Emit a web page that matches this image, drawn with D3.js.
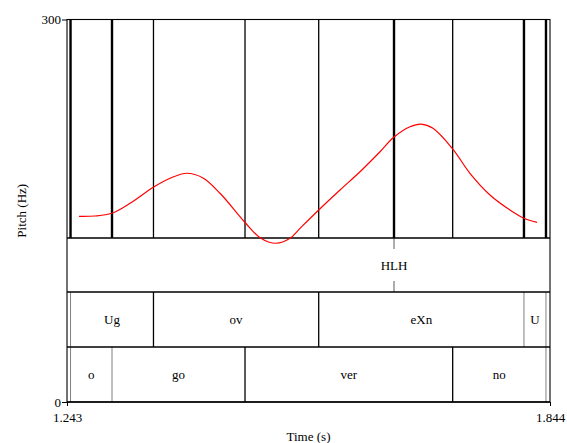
<!DOCTYPE html>
<html>
<head>
<meta charset="utf-8">
<script src="https://cdn.jsdelivr.net/npm/d3@7"></script>
<style>
  html, body { margin: 0; padding: 0; background: #fff; }
  svg { display: block; }
</style>
</head>
<body>
<svg id="chart" width="567" height="443"></svg>
<script>
// ---- data ----
const timeDomain = [1.243, 1.844];
const pitchDomain = [0, 300];
const xTickValues = [1.243, 1.844];
const yTickValues = [0, 300];
const xLabel = "Time (s)";
const yLabel = "Pitch (Hz)";

// pitch contour (time s, Hz)
const pitchTimes = [1.2579, 1.2778, 1.2986, 1.3214, 1.3504, 1.3712, 1.3923, 1.4122, 1.4334, 1.4654,
  1.4832, 1.5031, 1.5205, 1.5329, 1.5562, 1.5827, 1.6076, 1.6325, 1.6499, 1.6698, 1.6835, 1.6984,
  1.7233, 1.7444, 1.7693, 1.7942, 1.8116, 1.8278];
const pitchValues = [145.6, 145.9, 148.0, 155.8, 168.4, 175.5, 179.4, 175.7, 163.7, 140.2,
  128.9, 124.5, 128.4, 136.2, 150.6, 166.3, 180.6, 196.3, 207.8, 215.9, 218.0, 214.7,
  198.2, 179.4, 162.4, 150.6, 144.1, 140.9];

// tier 1: point tier
const tonePointTimes = [1.6499];
const tonePointLabels = ["HLH"];

// tier 2: syllables
const syllableBoundaries = [1.2474, 1.3506, 1.5562, 1.8116, 1.8390];
const syllableLabels = ["Ug", "ov", "eXn", "U"];

// tier 3: words
const wordBoundaries = [1.2474, 1.2990, 1.4645, 1.7229, 1.8390];
const wordLabels = ["o", "go", "ver", "no"];

// ---- layout ----
const FONT = "'Liberation Serif', 'Times New Roman', Times, 'DejaVu Serif', serif";
const mLeft = 67, mRight = 550, mTop = 19.5, mBottom = 402;
const tierTops = [238, 292, 347, 402];

const x = d3.scaleLinear().domain(timeDomain).range([mLeft, mRight]);
const y = d3.scaleLinear().domain(pitchDomain).range([mBottom, mTop]);

const svg = d3.select("#chart");

// boundaries drawn bold in the pitch area (edge boundaries and the tone point)
const boldSet = new Set([wordBoundaries[0], wordBoundaries[1], tonePointTimes[0],
  syllableBoundaries[3], syllableBoundaries[4]]);

const allBoundaries = Array.from(new Set([...syllableBoundaries, ...wordBoundaries, ...tonePointTimes]));

// pitch area vertical lines
svg.append("g").selectAll("line").data(allBoundaries).join("line")
  .attr("x1", d => x(d)).attr("x2", d => x(d))
  .attr("y1", mTop).attr("y2", tierTops[0])
  .attr("stroke", "#000")
  .attr("stroke-width", d => boldSet.has(d) ? 2.4 : 1.3);

// tier boundaries
function drawIntervalTier(bounds, labels, y0, y1, greySet) {
  const g = svg.append("g");
  g.selectAll("line").data(bounds).join("line")
    .attr("x1", d => x(d)).attr("x2", d => x(d))
    .attr("y1", y0).attr("y2", y1)
    .attr("stroke", (d, i) => greySet.has(i) ? "#808080" : "#000")
    .attr("stroke-width", (d, i) => greySet.has(i) ? 1 : 1.3);
  g.selectAll("text").data(labels).join("text")
    .attr("x", (d, i) => x((bounds[i] + bounds[i + 1]) / 2))
    .attr("y", (y0 + y1) / 2)
    .attr("dy", "0.35em")
    .attr("text-anchor", "middle")
    .attr("font-size", 13)
    .text(d => d);
}
drawIntervalTier(syllableBoundaries, syllableLabels, tierTops[1], tierTops[2], new Set([0, 3, 4]));
drawIntervalTier(wordBoundaries, wordLabels, tierTops[2], tierTops[3], new Set([0, 1, 4]));

// point tier
const pt = svg.append("g");
tonePointTimes.forEach((t, i) => {
  pt.append("line").attr("x1", x(t)).attr("x2", x(t))
    .attr("y1", tierTops[0]).attr("y2", tierTops[0] + 11)
    .attr("stroke", "#808080").attr("stroke-width", 1.3);
  pt.append("line").attr("x1", x(t)).attr("x2", x(t))
    .attr("y1", tierTops[1] - 11).attr("y2", tierTops[1])
    .attr("stroke", "#808080").attr("stroke-width", 1.3);
  pt.append("text").attr("x", x(t)).attr("y", (tierTops[0] + tierTops[1]) / 2)
    .attr("dy", "0.35em").attr("text-anchor", "middle").attr("font-size", 13)
    .text(tonePointLabels[i]);
});

// horizontal tier lines
svg.append("g").selectAll("line").data(tierTops).join("line")
  .attr("x1", mLeft).attr("x2", mRight)
  .attr("y1", d => d).attr("y2", d => d)
  .attr("stroke", "#000").attr("stroke-width", 1.4);

// frame
svg.append("rect").attr("x", mLeft).attr("y", mTop)
  .attr("width", mRight - mLeft).attr("height", mBottom - mTop)
  .attr("fill", "none").attr("stroke", "#000").attr("stroke-width", 1.1);

// pitch contour
const line = d3.line().x(d => x(d[0])).y(d => y(d[1])).curve(d3.curveCatmullRom.alpha(0.5));
svg.append("path")
  .datum(pitchTimes.map((t, i) => [t, pitchValues[i]]))
  .attr("d", line)
  .attr("fill", "none").attr("stroke", "#ff0000").attr("stroke-width", 1.2);

// axes
const yAxis = d3.axisLeft(y).tickValues(yTickValues).tickSize(5).tickSizeOuter(0).tickPadding(1)
  .tickFormat(d3.format("d"));
const gy = svg.append("g").attr("transform", `translate(${mLeft},0)`).call(yAxis);
gy.select(".domain").remove();
gy.selectAll("text").attr("font-size", 13);

const xAxis = d3.axisBottom(x).tickValues(xTickValues).tickSize(4).tickSizeOuter(0).tickPadding(7)
  .tickFormat(d3.format(".3f"));
const gx = svg.append("g").attr("transform", `translate(0,${mBottom})`).call(xAxis);
gx.select(".domain").remove();
gx.selectAll("text").attr("font-size", 13);

// axis titles
svg.append("text").attr("x", (mLeft + mRight) / 2).attr("y", 441)
  .attr("text-anchor", "middle").attr("font-size", 13).text(xLabel);
svg.append("text")
  .attr("transform", `translate(21,${(mTop + mBottom) / 2}) rotate(-90)`)
  .attr("dy", "0.35em")
  .attr("text-anchor", "middle").attr("font-size", 13).text(yLabel);

// serif font everywhere
svg.selectAll("text").style("font-family", FONT).style("fill", "#000");
svg.selectAll("g").attr("font-family", null);
</script>
</body>
</html>
